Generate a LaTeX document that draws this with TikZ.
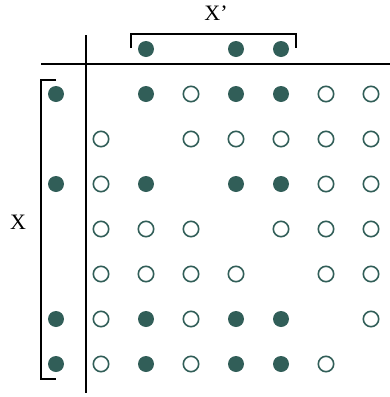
\documentclass[tikz,border=0pt]{standalone}
\usepackage{fontspec}
\setmainfont{Liberation Serif}
\definecolor{teal}{RGB}{49,94,88}
\tikzset{
  full/.style={circle,fill=teal,minimum size=16pt,inner sep=0pt},
  empty/.style={circle,draw=teal,line width=1.6pt,minimum size=15.4pt,inner sep=0pt,fill=white},
  axis/.style={line width=1.2pt,black},
  bracket/.style={line width=1.2pt,black},
  lbl/.style={font=\fontsize{22}{24}\selectfont,inner sep=0pt}
}
\begin{document}
\begin{tikzpicture}[x=1pt,y=-1pt]
\useasboundingbox (0,0) rectangle (390,397);
% axes
\coordinate (hl) at (41,64); \coordinate (hr) at (390,64);
\coordinate (vt) at (86,35); \coordinate (vb) at (86,393);
\draw[axis] (hl) -- (hr);
\draw[axis] (vt) -- (vb);
% brackets
\coordinate (t1) at (131,48); \coordinate (t2) at (131,34);
\coordinate (t3) at (296,34); \coordinate (t4) at (296,48);
\draw[bracket] (t1) -- (t2) -- (t3) -- (t4);
\coordinate (l1) at (56,80); \coordinate (l2) at (41,80);
\coordinate (l3) at (41,379); \coordinate (l4) at (56,379);
\draw[bracket] (l1) -- (l2) -- (l3) -- (l4);
% labels
\node[lbl] (xp) at (216,13) {X’};
\node[lbl] (x) at (18,222) {X};
% top row
\foreach \c in {2,4,5} \node[full] (top\c) at ({56+45*\c},49) {};
% left column
\foreach \r in {1,3,6,7} \node[full] (left\r) at (56,{49+45*\r}) {};
% matrix: filled entries (row/col)
\foreach \r/\c in {1/2,1/4,1/5,3/2,3/4,3/5,6/2,6/4,6/5,7/2,7/4,7/5}
  \node[full] (m\r\c) at ({56+45*\c},{49+45*\r}) {};
% matrix: open entries
\foreach \r/\c in {1/3,1/6,1/7,
                   2/1,2/3,2/4,2/5,2/6,2/7,
                   3/1,3/6,3/7,
                   4/1,4/2,4/3,4/5,4/6,4/7,
                   5/1,5/2,5/3,5/4,5/6,5/7,
                   6/1,6/3,6/7,
                   7/1,7/3,7/6}
  \node[empty] (m\r\c) at ({56+45*\c},{49+45*\r}) {};
\end{tikzpicture}
\end{document}
